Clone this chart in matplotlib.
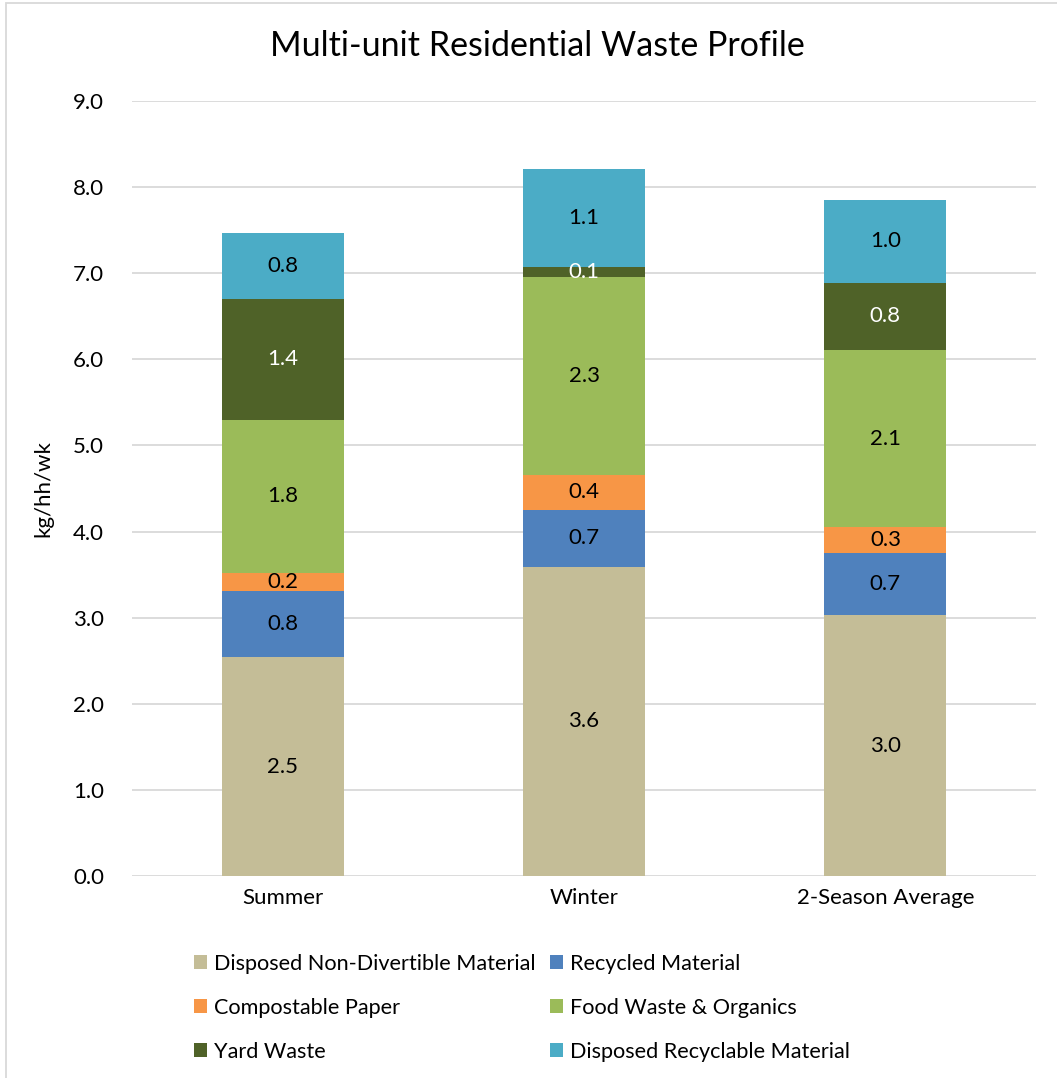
import matplotlib.pyplot as plt
from matplotlib.patches import Rectangle
import numpy as np

# data
seasons = ['Summer', 'Winter', '2-Season Average']
categories = ['Disposed Non-Divertible Material', 'Recycled Material', 'Compostable Paper',
              'Food Waste & Organics', 'Yard Waste', 'Disposed Recyclable Material']
non_divertible = [2.54, 3.59, 3.03]
recycled = [0.77, 0.66, 0.72]
compostable = [0.21, 0.41, 0.30]
food_organics = [1.78, 2.30, 2.06]
yard_waste = [1.40, 0.11, 0.78]
disposed_recyclable = [0.77, 1.14, 0.96]

colors = ['#C4BD97', '#4F81BD', '#F79646', '#9BBB59', '#4F6228', '#4BACC6']
label_colors = ['black', 'black', 'black', 'black', 'white', 'black']

plt.rcParams['font.family'] = ['Lato', 'DejaVu Sans']

fig = plt.figure(figsize=(10.57, 10.78), dpi=100)
ax = fig.add_axes([0.1249, 0.1874, 0.8553, 0.7189])

series = [non_divertible, recycled, compostable, food_organics, yard_waste, disposed_recyclable]
x = np.arange(len(seasons))
bottom = np.zeros(len(seasons))
handles = []
for vals, name, c, lc in zip(series, categories, colors, label_colors):
    vals = np.array(vals)
    bars = ax.bar(x, vals, 0.405, bottom=bottom, color=c, label=name, zorder=3)
    handles.append(bars)
    for xi, b, v in zip(x, bottom, vals):
        ax.text(xi, b + v / 2, f'{v:.1f}', ha='center', va='center',
                fontsize=16, color=lc, zorder=4)
    bottom += vals

ax.set_xlim(-0.5, 2.5)
ax.set_ylim(0, 9)
ax.set_yticks(np.arange(0, 9.1, 1.0))
ax.set_yticklabels([f'{v:.1f}' for v in np.arange(0, 9.1, 1.0)], fontsize=16)
ax.set_xticks(x)
ax.set_xticklabels(seasons, fontsize=16)
ax.grid(axis='y', color='#D9D9D9', linewidth=1.3, zorder=0)
for s in ax.spines.values():
    s.set_visible(False)
ax.tick_params(axis='y', length=0, pad=20)
ax.tick_params(axis='x', length=0, pad=9)
ax.set_ylabel('kg/hh/wk', fontsize=16, labelpad=14)

fig.text(0.508, 0.957, 'Multi-unit Residential Waste Profile', ha='center', va='center', fontsize=24.5)

# legend filled row-wise like the reference
order = [0, 2, 4, 1, 3, 5]
leg = fig.legend([handles[i] for i in order], [categories[i] for i in order],
                 ncol=2, loc='upper left', bbox_to_anchor=(194 / 1057, 1 - 954 / 1078),
                 borderpad=0, borderaxespad=0,
                 frameon=False, fontsize=15.6, handlelength=0.6, handleheight=0.6,
                 handletextpad=0.33, columnspacing=0.65, labelspacing=1.1)

fig.patches.append(Rectangle((6 / 1057, -0.01), 1.05, 1 - 3 / 1078 + 0.01,
                             transform=fig.transFigure, fill=False,
                             edgecolor='#D9D9D9', linewidth=1.3))

fig.savefig('out.png', dpi=100)
